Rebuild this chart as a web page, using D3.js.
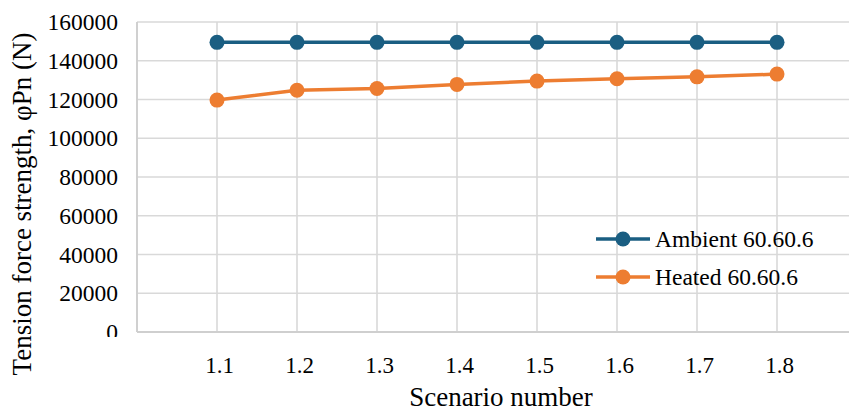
<!DOCTYPE html>
<html>
<head>
<meta charset="utf-8">
<script src="https://cdn.jsdelivr.net/npm/d3@7"></script>
<style>
  html, body { margin: 0; padding: 0; background: #fff; }
  svg { display: block; }
</style>
</head>
<body>
<svg id="chart" width="849" height="412"></svg>
<script>
// ---- data ----
const scenarios = [1.1, 1.2, 1.3, 1.4, 1.5, 1.6, 1.7, 1.8];
const ambient = [149500, 149500, 149500, 149500, 149500, 149500, 149500, 149500];
const heated = [119700, 124800, 125700, 127800, 129500, 130700, 131700, 133100];
const seriesNames = ["Ambient 60.60.6", "Heated 60.60.6"];
const seriesColors = ["#1a5e82", "#ed7d31"];
const yTicks = [0, 20000, 40000, 60000, 80000, 100000, 120000, 140000, 160000];
const xGrid = [1.0, 1.1, 1.2, 1.3, 1.4, 1.5, 1.6, 1.7, 1.8, 1.9];

const FONT = "'Liberation Serif', 'Times New Roman', serif";
const svg = d3.select("#chart");
const x = d3.scaleLinear().domain([1.0, 1.9]).range([137, 857]);
const y = d3.scaleLinear().domain([0, 160000]).range([332, 22]);

// clip for y labels (the "0" label is cut off at the bottom)
svg.append("defs").append("clipPath").attr("id", "ylabclip")
  .attr("clipPathUnits", "userSpaceOnUse")
  .append("rect").attr("x", -200).attr("y", 0).attr("width", 220).attr("height", 337);

// gridlines
const grid = svg.append("g");
grid.selectAll("line.h").data(yTicks).join("line")
  .attr("x1", x(1.0)).attr("x2", x(1.9))
  .attr("y1", d => y(d)).attr("y2", d => y(d))
  .attr("stroke", "#d9d9d9").attr("stroke-width", 1.6);
grid.selectAll("line.v").data(xGrid).join("line")
  .attr("x1", d => x(d)).attr("x2", d => x(d))
  .attr("y1", y(0)).attr("y2", y(160000))
  .attr("stroke", "#d9d9d9").attr("stroke-width", 1.6);

// axes lines
svg.append("line").attr("x1", x(1.0)).attr("x2", x(1.0)).attr("y1", y(0)).attr("y2", y(160000))
  .attr("stroke", "#cfcfcf").attr("stroke-width", 1.8);
svg.append("line").attr("x1", x(1.0)).attr("x2", x(1.9)).attr("y1", y(0)).attr("y2", y(0))
  .attr("stroke", "#cfcfcf").attr("stroke-width", 1.8);

// y axis labels via d3 axis
const yAxis = d3.axisLeft(y).tickValues(yTicks).tickFormat(d3.format("d")).tickSize(0).tickPadding(0);
const yg = svg.append("g").attr("transform", "translate(118,0)").attr("clip-path", "url(#ylabclip)")
  .call(yAxis).attr("font-family", null).attr("font-size", null);
yg.select(".domain").remove();
yg.selectAll("text").style("font-family", FONT).style("font-size", "23.5px").attr("fill", "#000");

// x axis labels
const xAxis = d3.axisBottom(x).tickValues(scenarios).tickFormat(d3.format(".1f")).tickSize(0).tickPadding(0);
const xg = svg.append("g").attr("transform", "translate(2,0)").call(xAxis)
  .attr("font-family", null).attr("font-size", null);
xg.select(".domain").remove();
xg.selectAll("text").style("font-family", FONT).style("font-size", "23px").attr("fill", "#000")
  .attr("dy", null).attr("y", 373);

// series
const data = [ambient, heated];
const line = d3.line().x((d, i) => x(scenarios[i])).y(d => y(d));
data.forEach((vals, si) => {
  svg.append("path").datum(vals).attr("d", line)
    .attr("fill", "none").attr("stroke", seriesColors[si]).attr("stroke-width", 3.5)
    .attr("stroke-linejoin", "round");
  svg.append("g").selectAll("circle").data(vals).join("circle")
    .attr("cx", (d, i) => x(scenarios[i])).attr("cy", d => y(d)).attr("r", 7.5)
    .attr("fill", seriesColors[si]);
});

// legend
const leg = svg.append("g");
seriesNames.forEach((name, i) => {
  const ly = 239 + i * 38;
  leg.append("line").attr("x1", 596).attr("x2", 650).attr("y1", ly).attr("y2", ly)
    .attr("stroke", seriesColors[i]).attr("stroke-width", 3.5);
  leg.append("circle").attr("cx", 623).attr("cy", ly).attr("r", 7.5).attr("fill", seriesColors[i]);
  leg.append("text").attr("x", 655).attr("y", ly + 8)
    .style("font-family", FONT).style("font-size", "23.5px").text(name);
});

// axis titles
svg.append("text").attr("x", 501).attr("y", 406).attr("text-anchor", "middle")
  .style("font-family", FONT).style("font-size", "27px").text("Scenario number");
svg.append("text").attr("transform", "translate(31,204) rotate(-90)").attr("text-anchor", "middle")
  .style("font-family", FONT).style("font-size", "27px").text("Tension force strength, φPn (N)");
</script>
</body>
</html>
